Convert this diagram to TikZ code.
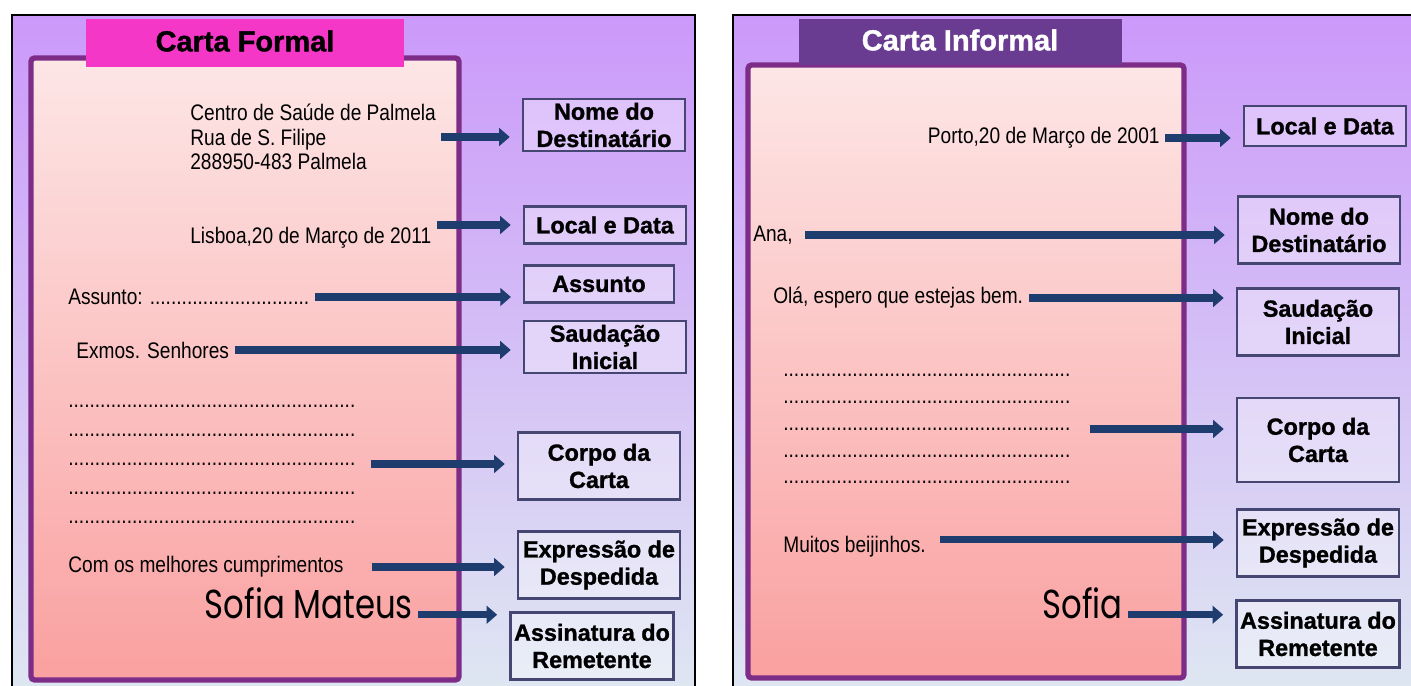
\documentclass[tikz,border=0pt]{standalone}
\usepackage{fontspec}
\setmainfont{Liberation Sans}
\newfontfamily\estreita{Liberation Sans}[FakeStretch=0.85]
\newfontfamily\negrito{Liberation Sans Bold}[FakeBold=1.2]
\newfontfamily\manuscrita{Poppins}[FakeStretch=0.8]
\usetikzlibrary{arrows.meta}

\definecolor{fundoTopo}{RGB}{203,153,250}
\definecolor{fundoBase}{RGB}{222,230,242}
\definecolor{folhaTopo}{RGB}{253,230,230}
\definecolor{folhaBase}{RGB}{250,160,160}
\definecolor{roxoFolha}{RGB}{125,45,135}
\definecolor{magentaAba}{RGB}{245,55,200}
\definecolor{roxoAba}{RGB}{105,60,145}
\definecolor{bordaRotulo}{RGB}{70,70,115}
\definecolor{azulSeta}{RGB}{30,60,110}

\newcommand{\linhapontos}{......................................................}

\tikzset{
	texto/.style={font=\estreita\fontsize{12.8}{14}\selectfont, inner sep=0pt, align=left},
	rotulo/.style={draw=bordaRotulo, line width=1.3pt, fill=white, fill opacity=.35, text opacity=1,
		font=\negrito\fontsize{13.3}{15.5}\selectfont, align=center, minimum width=92pt,
		minimum height=21pt, inner sep=2pt},
	seta/.style={draw=azulSeta, line width=4pt, -{Triangle[length=6pt,width=10pt]}, shorten <=3pt, shorten >=7pt},
	folha/.style={top color=folhaTopo, bottom color=folhaBase, draw=roxoFolha, line width=3pt, rounded corners=2pt},
	aba/.style={font=\negrito\fontsize{16.5}{18}\selectfont},
	assinatura/.style={anchor=east, inner sep=0pt, font=\manuscrita\fontsize{23}{26}\selectfont}
}

\begin{document}
\begin{tikzpicture}[x=0.02cm, y=-0.02cm]
		\useasboundingbox (0,0) rectangle (1411,686);
		\fill[white] (0,0) rectangle (1411,686);

		\shade[top color=fundoTopo, bottom color=fundoBase] (12,15) rectangle (695,686);
		\shade[top color=fundoTopo, bottom color=fundoBase] (733,15) rectangle (1411,686);
		\draw[line width=1.2pt] (12,686) -- (12,15) -- (695,15) -- (695,686);
		\draw[line width=1.2pt] (733,686) -- (733,15) -- (1411,15);

		\draw[folha] (31,58) rectangle (459,680);
		\draw[folha] (748,65) rectangle (1184,678);

		\fill[magentaAba] (86,19) rectangle (404,67);
		\fill[roxoAba] (799,19) rectangle (1122,65);
		\node (abaFormal) at (245,41) [aba] {Carta Formal};
		\node (abaInformal) at (960,40) [aba, text=white] {Carta Informal};

		\node (nome1) at (604,125) [rotulo] {Nome do\\Destinatário};
		\node (local1) at (605,225) [rotulo] {Local e Data};
		\node (assunto1) at (599,284) [rotulo, minimum width=85pt] {Assunto};
		\node (saud1) at (605,347) [rotulo] {Saudação\\Inicial};
		\node (corpo1) at (599,466) [rotulo, minimum height=38pt] {Corpo da\\Carta};
		\node (desp1) at (599,565) [rotulo, minimum height=38pt] {Expressão de\\Despedida};
		\node (assin1) at (592,646) [rotulo, minimum width=89pt, minimum height=38pt] {Assinatura do\\Remetente};

		\node (endereco) at (190,137) [texto, anchor=west]
		{Centro de Saúde de Palmela\\Rua de S. Filipe\\288950-483 Palmela};
		\node (lisboa) at (190,238) [texto, anchor=west] {Lisboa,20 de Março de 2011};
		\node (assunto) at (68,297) [texto, anchor=west] {Assunto: ..............................};
		\node (exmos) at (76,350) [texto, anchor=west] {Exmos. Senhores};
		\node (pontos1) at (68,464) [texto, anchor=west, font=\estreita\fontsize{12.8}{16.5}\selectfont]
		{\linhapontos\\\linhapontos\\\linhapontos\\\linhapontos\\\linhapontos};
		\node (cumpr) at (68,567) [texto, anchor=west] {Com os melhores cumprimentos};
		\node (sofiaM) at (413,603) [assinatura] {Sofia Mateus};

		\draw[seta] (endereco.east) -- (endereco.east -| nome1.west);
		\draw[seta] (lisboa.east |- local1.west) -- (local1.west);
		\draw[seta] (assunto.east) -- (assunto.east -| assunto1.west);
		\draw[seta] (exmos.east) -- (exmos.east -| saud1.west);
		\draw[seta, shorten <=9pt] (pontos1.east) -- (pontos1.east -| corpo1.west);
		\draw[seta, shorten <=16pt] (cumpr.east) -- (cumpr.east -| desp1.west);
		\draw[seta] ([yshift=2pt]sofiaM.base east) -- ([yshift=2pt]sofiaM.base east -| assin1.west);

		\node (local2) at (1325,126) [rotulo, minimum height=22.5pt] {Local e Data};
		\node (nome2) at (1319,230) [rotulo, minimum height=38pt] {Nome do\\Destinatário};
		\node (saud2) at (1318,322) [rotulo, minimum height=38pt] {Saudação\\Inicial};
		\node (corpo2) at (1318,440) [rotulo, minimum height=48pt] {Corpo da\\Carta};
		\node (desp2) at (1318,543) [rotulo, minimum height=38pt] {Expressão de\\Despedida};
		\node (assin2) at (1318,634) [rotulo, minimum height=38pt] {Assinatura do\\Remetente};

		\node (porto) at (1160,138) [texto, anchor=east] {Porto,20 de Março de 2001};
		\node (ana) at (753,235) [texto, anchor=west] {Ana,};
		\node (ola) at (773,298) [texto, anchor=west] {Olá, espero que estejas bem.};
		\node (pontos2) at (783,429) [texto, anchor=west, font=\estreita\fontsize{12.8}{15.3}\selectfont]
		{\linhapontos\\\linhapontos\\\linhapontos\\\linhapontos\\\linhapontos};
		\node (muitos) at (783,547) [texto, anchor=west] {Muitos beijinhos.};
		\node (sofia) at (1123,603) [assinatura] {Sofia};

		\draw[seta] (porto.east) -- (porto.east -| local2.west);
		\draw[seta, shorten <=7pt] (ana.east) -- (ana.east -| nome2.west);
		\draw[seta] (ola.east) -- (ola.east -| saud2.west);
		\draw[seta, shorten <=11pt] (pontos2.east) -- (pontos2.east -| corpo2.west);
		\draw[seta, shorten <=8pt] ([yshift=4pt]muitos.east) -- ([yshift=4pt]muitos.east -| desp2.west);
		\draw[seta] ([yshift=2pt]sofia.base east) -- ([yshift=2pt]sofia.base east -| assin2.west);
\end{tikzpicture}
\end{document}
